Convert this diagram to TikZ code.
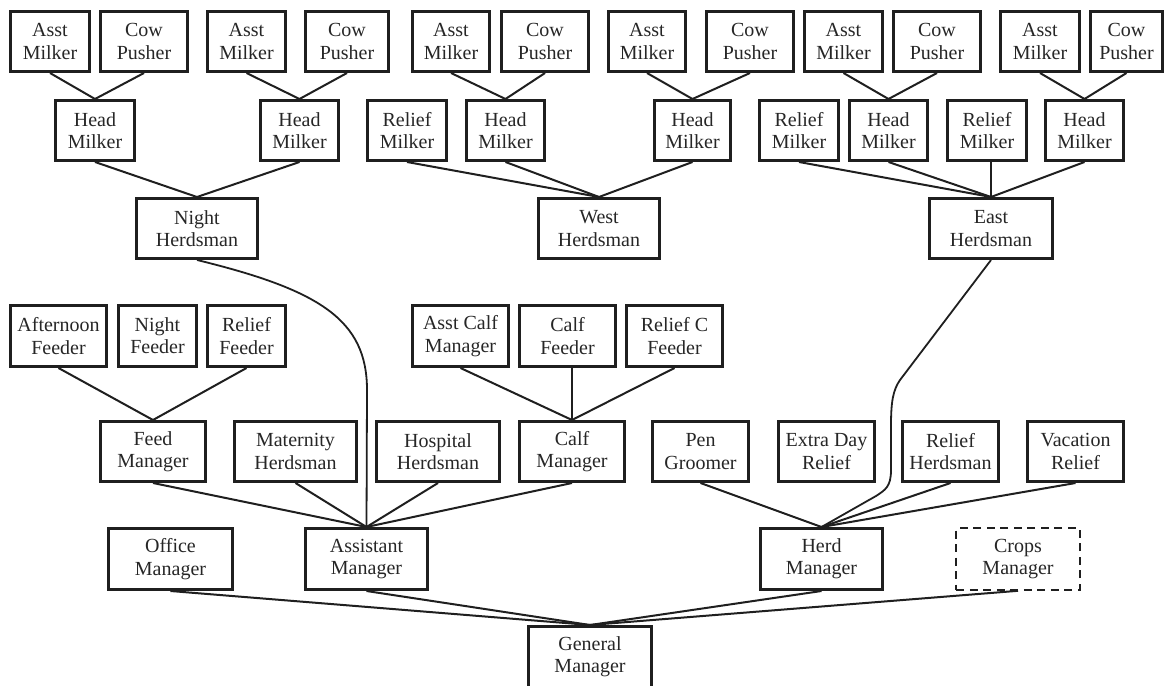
\documentclass[tikz,border=0pt]{standalone}
\usepackage{fontspec}
\setmainfont{Liberation Serif}
\newcommand\ob[7][]{%
  \pgfmathsetmacro\obw{#4-#3-2.6}%
  \pgfmathsetmacro\obh{#6-#5-2.6}%
  \pgfmathsetmacro\obx{(#3+#4)/2}%
  \pgfmathsetmacro\oby{(#5+#6)/2}%
  \node[box,#1,minimum width=\obw pt,minimum height=\obh pt] (#2) at (\obx,\oby) {#7};}
\begin{document}
\begin{tikzpicture}[x=1pt,y=-1pt,
  box/.style={draw=black!88, line width=2.6pt, inner sep=0pt, align=center,
    font=\fontsize{20}{22.3}\selectfont, text=black!85},
  dashbox/.style={dash pattern=on 8pt off 5.5pt, line width=2.2pt},
  conn/.style={draw=black!88, line width=2pt},
  curv/.style={draw=black!88, line width=1.8pt}]
\useasboundingbox (0,0) rectangle (1166,685);
\clip (0,0) rectangle (1166,685);
% row 1
\ob{am1}{9}{91}{10}{73}{Asst\\Milker}
\ob{cp1}{99}{189}{10}{73}{Cow\\Pusher}
\ob{am2}{206}{287}{10}{73}{Asst\\Milker}
\ob{cp2}{304}{390}{10}{73}{Cow\\Pusher}
\ob{am3}{411}{491}{10}{73}{Asst\\Milker}
\ob{cp3}{500}{590}{10}{73}{Cow\\Pusher}
\ob{am4}{607}{687}{10}{73}{Asst\\Milker}
\ob{cp4}{705}{795}{10}{73}{Cow\\Pusher}
\ob{am5}{803}{884}{10}{73}{Asst\\Milker}
\ob{cp5}{892}{982}{10}{73}{Cow\\Pusher}
\ob{am6}{999}{1081}{10}{73}{Asst\\Milker}
\ob{cp6}{1089}{1164}{10}{73}{Cow\\Pusher}
% row 2
\ob{hm1}{54}{136}{99}{162}{Head\\Milker}
\ob{hm2}{259}{340}{99}{162}{Head\\Milker}
\ob{rmw}{366}{448}{99}{162}{Relief\\Milker}
\ob{hm3}{465}{546}{99}{162}{Head\\Milker}
\ob{hm4}{653}{732}{99}{162}{Head\\Milker}
\ob{rme1}{758}{840}{99}{162}{Relief\\Milker}
\ob{hm5}{848}{929}{99}{162}{Head\\Milker}
\ob{rme2}{946}{1028}{99}{162}{Relief\\Milker}
\ob{hm6}{1044}{1125}{99}{162}{Head\\Milker}
% herdsmen
\ob{nh}{135}{259}{197}{260}{Night\\Herdsman}
\ob{wh}{537}{661}{197}{260}{West\\Herdsman}
\ob{eh}{928}{1054}{197}{260}{East\\Herdsman}
% feeders
\ob{af}{9}{108}{304}{368}{Afternoon\\Feeder}
\ob{nf}{117}{198}{304}{368}{Night\\Feeder}
\ob{rf}{206}{287}{304}{368}{Relief\\Feeder}
\ob{acm}{411}{510}{304}{368}{Asst Calf\\Manager}
\ob{cf}{518}{617}{304}{368}{Calf\\Feeder}
\ob{rcf}{625}{724}{304}{368}{Relief C\\Feeder}
% managers row
\ob{fm}{99}{207}{420}{483}{Feed\\Manager}
\ob{mh}{233}{358}{420}{483}{Maternity\\Herdsman}
\ob{hh}{375}{501}{420}{483}{Hospital\\Herdsman}
\ob{cm}{518}{626}{420}{483}{Calf\\Manager}
\ob{pg}{651}{750}{420}{483}{Pen\\Groomer}
\ob{edr}{777}{876}{420}{483}{Extra Day\\Relief}
\ob{rh}{901}{1000}{420}{483}{Relief\\Herdsman}
\ob{vr}{1026}{1125}{420}{483}{Vacation\\Relief}
% bottom row
\ob{om}{107}{234}{527}{591}{Office\\Manager}
\ob{asm}{304}{429}{527}{591}{Assistant\\Manager}
\ob{hdm}{759}{884}{527}{591}{Herd\\Manager}
\ob[dashbox]{crm}{955}{1081}{527}{591}{Crops\\Manager}
\ob{gm}{527}{653}{625}{689}{General\\Manager}
% connectors top
\foreach \c/\p in {am1/hm1,cp1/hm1,am2/hm2,cp2/hm2,am3/hm3,cp3/hm3,am4/hm4,cp4/hm4,
  am5/hm5,cp5/hm5,am6/hm6,cp6/hm6,hm1/nh,hm2/nh,rmw/wh,hm3/wh,hm4/wh,
  rme1/eh,hm5/eh,hm6/eh,af/fm,rf/fm,acm/cm,rcf/cm,
  fm/asm,mh/asm,hh/asm,cm/asm,pg/hdm,rh/hdm,vr/hdm,
  om/gm,asm/gm,hdm/gm,crm/gm}
  \draw[conn] (\c.south) -- (\p.north);
\draw[conn] (eh.north |- rme2.south) -- (eh.north);
\draw[conn] (cm.north |- cf.south) -- (cm.north);
% curves
\draw[curv] (nh.south) .. controls (320,290) and (367,320) .. (367,390) -- (asm.north);
\coordinate (ea) at (900,380);
\coordinate (eb) at (891,425);
\coordinate (ec) at (891,470);
\coordinate (ed) at (876,496);
\draw[curv] (eh.south) -- (ea) .. controls (893,390) and (891,402) .. (eb) -- (ec)
  .. controls (891,487) and (885,490) .. (ed) -- (hdm.north);
\end{tikzpicture}
\end{document}
